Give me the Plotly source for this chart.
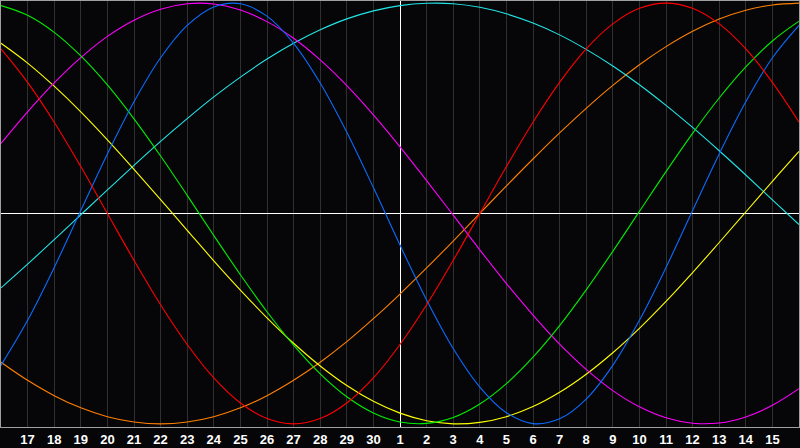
import plotly.graph_objects as go

# Days relative to day 1 of the month: -15 (day 16) .. +15 (day 16 of next month)
day_offset = list(range(-15, 16))
tick_offset = list(range(-14, 15))
tick_labels = ["17", "18", "19", "20", "21", "22", "23", "24", "25", "26", "27", "28", "29", "30",
               "1", "2", "3", "4", "5", "6", "7", "8", "9", "10", "11", "12", "13", "14", "15"]

red = [78.2, 62.3, 43.4, 22.3, 0, -22.3, -43.4, -62.3, -78.2, -90.1, -97.5, -100, -97.5, -90.1,
       -78.2, -62.3, -43.4, -22.3, 0, 22.3, 43.4, 62.3, 78.2, 90.1, 97.5, 100, 97.5, 90.1, 78.2,
       62.3, 43.4]
blue = [-72.2, -50.8, -25.7, 1.4, 28.3, 53.1, 74.0, 89.4, 98.2, 99.7, 93.8, 80.9, 62.0, 38.6,
        12.3, -15.0, -41.1, -64.2, -82.5, -94.7, -99.9, -97.6, -88.2, -72.2, -50.8, -25.7, 1.4,
        28.3, 53.1, 74.0, 89.4]
cyan = [-35.4, -24.1, -12.4, -0.6, 11.2, 22.9, 34.3, 45.1, 55.4, 64.8, 73.4, 80.9, 87.3, 92.5,
        96.3, 98.8, 99.9, 99.7, 98.0, 94.9, 90.5, 84.9, 78.0, 70.1, 61.2, 51.4, 40.9, 29.8, 18.3,
        6.5, -5.3]
magenta = [33.3, 48.3, 62.1, 74.1, 84.2, 91.9, 97.1, 99.7, 99.6, 96.7, 91.2, 83.3, 73.0, 60.8,
           46.9, 31.7, 15.6, -0.8, -17.3, -33.3, -48.3, -62.1, -74.1, -84.2, -91.9, -97.1, -99.7,
           -99.6, -96.7, -91.2, -83.3]
green = [98.8, 94.2, 86.1, 74.9, 61.1, 45.0, 27.3, 8.6, -10.5, -29.1, -46.7, -62.6, -76.2, -87.1,
         -94.8, -99.1, -99.8, -97.0, -90.6, -80.9, -68.3, -53.3, -36.3, -18.0, 1.0, 19.9, 38.1,
         54.9, 69.7, 82.0, 91.4]
yellow = [80.9, 71.5, 60.5, 48.3, 35.0, 21.0, 6.6, -8.0, -22.5, -36.4, -49.6, -61.7, -72.5, -81.8,
          -89.3, -94.9, -98.5, -100.0, -99.3, -96.6, -91.8, -85.0, -76.4, -66.2, -54.6, -41.8,
          -28.1, -13.8, 0.7, 15.3, 29.5]
orange = [-70.7, -79.3, -86.6, -92.4, -96.6, -99.1, -100, -99.1, -96.6, -92.4, -86.6, -79.3,
          -70.7, -60.9, -50.0, -38.3, -25.9, -13.1, 0, 13.1, 25.9, 38.3, 50.0, 60.9, 70.7, 79.3,
          86.6, 92.4, 96.6, 99.1, 100]

series = [
    (orange, "#ff8000"),
    (cyan, "#22e6e6"),
    (yellow, "#ffff00"),
    (magenta, "#ff00ff"),
    (green, "#00ee00"),
    (blue, "#0a6cff"),
    (red, "#ff0000"),
]

fig = go.Figure()
for vals, col in series:
    fig.add_trace(go.Scatter(x=day_offset, y=vals, mode="lines",
                             line=dict(color=col, width=1.1, shape="spline", smoothing=1.0),
                             hoverinfo="skip", showlegend=False))

fig.update_layout(
    width=800, height=448,
    margin=dict(l=1, r=1, t=1, b=21),
    paper_bgcolor="#060609", plot_bgcolor="#060609",
    showlegend=False,
)
fig.update_xaxes(range=[-15, 15], tickmode="array", tickvals=tick_offset, ticktext=tick_labels,
                 showgrid=True, gridcolor="#303030", gridwidth=1,
                 zeroline=True, zerolinecolor="#ffffff", zerolinewidth=1,
                 showline=True, linecolor="#a0a0a0", linewidth=1, mirror=True,
                 ticks="", tickfont=dict(color="#ffffff", size=13, family="Liberation Sans", weight="bold"),
                 fixedrange=True)
fig.update_yaxes(range=[-101.5, 101], showgrid=False,
                 zeroline=True, zerolinecolor="#ffffff", zerolinewidth=1,
                 showticklabels=False,
                 showline=True, linecolor="#a0a0a0", linewidth=1, mirror=True, ticks="",
                 fixedrange=True)

fig.write_html("out.html", config={"displayModeBar": False},
               post_script="document.body.style.margin='0px';document.body.style.background='#060609';")
